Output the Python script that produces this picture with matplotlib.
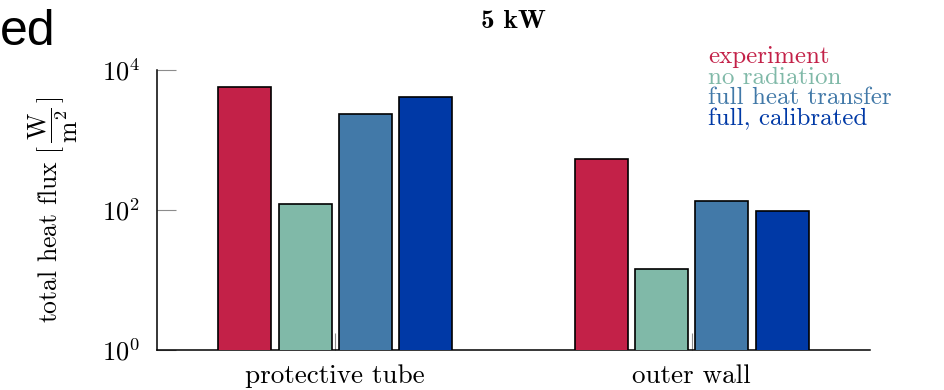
import numpy as np
import matplotlib.pyplot as plt
from matplotlib.ticker import LogLocator, NullLocator

plt.rcParams['font.family'] = 'cmr10'
plt.rcParams['mathtext.fontset'] = 'cm'
plt.rcParams['axes.formatter.use_mathtext'] = True

locations = ['protective tube', 'outer wall']
series = ['experiment', 'no radiation', 'full heat transfer', 'full, calibrated']
colors = ['#C32148', '#80B9A8', '#4279A8', '#0039A6']

# total heat flux in W/m^2, one list per series
experiment = [5800, 540]
no_radiation = [122, 14.5]
full_heat_transfer = [2350, 134]
full_calibrated = [4150, 97]
values = [experiment, no_radiation, full_heat_transfer, full_calibrated]

fig = plt.figure(figsize=(9.45, 3.9), dpi=100)
ax = fig.add_axes([0.1661, 0.1026, 0.7545, 0.7179])

x = np.arange(len(locations))
w = 0.149
step = 0.169
for i, (vals, c) in enumerate(zip(values, colors)):
    ax.bar(x + (i - 1.5) * step, vals, w, color=c, edgecolor='black',
           linewidth=1.2, zorder=3)

ax.set_yscale('log')
ax.set_ylim(1, 1e4)
ax.set_xlim(-0.5, 1.5)
ax.yaxis.set_major_locator(LogLocator(base=100))
ax.yaxis.set_minor_locator(NullLocator())
ax.set_xticks(x)
ax.set_xticklabels(locations)

ax.tick_params(axis='both', direction='in', color='0.55', width=0.8)
ax.tick_params(axis='y', length=14, pad=12, labelsize=19)
ax.tick_params(axis='x', length=12, pad=10, labelsize=19.5)

for s in ['top', 'right']:
    ax.spines[s].set_visible(False)
for s in ['left', 'bottom']:
    ax.spines[s].set_linewidth(1.1)

ax.set_ylabel(r'total heat flux $[\,\dfrac{\mathrm{W}}{\mathrm{m}^2}\,]$',
              fontsize=18.5, labelpad=16)
ax.set_title('5 kW', fontsize=19.5, family='cmb10', pad=30)

for i, (name, c) in enumerate(zip(series, colors)):
    ax.text(0.773, 1.025 - i * 0.0736, name, color=c, fontsize=18,
            va='baseline', ha='left', transform=ax.transAxes)

fig.text(0.0, 0.978, 'ed', fontsize=36, family='Liberation Sans',
         va='top', ha='left')

fig.savefig('out.png', dpi=100)
